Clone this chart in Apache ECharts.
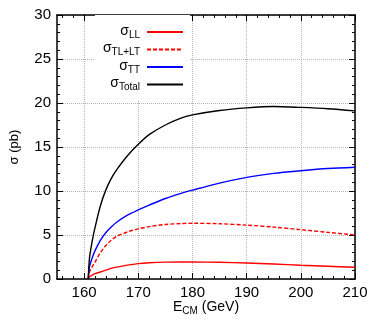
<!DOCTYPE html>
<html>
<head>
<meta charset="utf-8">
<script src="https://cdn.jsdelivr.net/npm/echarts@6/dist/echarts.min.js"></script>
<style>
  html, body { margin: 0; padding: 0; background: #fff; }
  #chart { width: 374px; height: 334px; }
</style>
</head>
<body>
<div id="chart"></div>
<script>
// centre-of-mass energy (GeV) and cross sections (pb)
const energy = [160.77, 161, 161.5, 162, 163, 164, 165, 166, 168, 170, 172, 175, 178, 180, 185, 190, 195, 200, 205, 210];
const sigmaLL = [0, 0.25, 0.45, 0.6, 0.8, 1.0, 1.2, 1.35, 1.58, 1.75, 1.85, 1.92, 1.93, 1.93, 1.9, 1.82, 1.7, 1.57, 1.45, 1.33];
const sigmaTLLT = [0, 0.8, 1.4, 1.9, 3.0, 3.8, 4.4, 4.85, 5.35, 5.7, 5.95, 6.2, 6.3, 6.33, 6.28, 6.12, 5.9, 5.6, 5.3, 5.0];
const sigmaTT = [0, 1.4, 2.4, 3.2, 4.4, 5.25, 5.9, 6.45, 7.25, 7.85, 8.4, 9.15, 9.75, 10.1, 10.9, 11.55, 12.0, 12.3, 12.55, 12.7];
const sigmaTotal = [0, 2.4, 4.3, 5.8, 8.3, 10.1, 11.4, 12.4, 14.0, 15.3, 16.4, 17.5, 18.3, 18.65, 19.15, 19.45, 19.6, 19.5, 19.35, 19.1];

const seriesNames = ['LL', 'TL+LT', 'TT', 'Total'];
const xMajorTicks = [160, 170, 180, 190, 200, 210];
const xMinorTicks = [156, 158, 162, 164, 166, 168, 172, 174, 176, 178, 182, 184, 186, 188, 192, 194, 196, 198, 202, 204, 206, 208];

const FONT = "'Liberation Sans', Arial, sans-serif";
const AXIS_COLOR = '#000';
const GRID_COLOR = '#b4b4b4';

const pairs = (ys) => energy.map((x, i) => [x, ys[i]]);

const chart = echarts.init(document.getElementById('chart'), null, { renderer: 'canvas' });

const xBase = {
  type: 'value', min: 155, max: 210, gridIndex: 0,
  axisLabel: { show: false },
  splitLine: { show: false },
};
const yBase = {
  type: 'value', min: 0, max: 30, interval: 5, gridIndex: 0,
  axisLabel: { show: false },
  splitLine: { show: false },
};

chart.setOption({
  animation: false,
  textStyle: { fontFamily: FONT },
  grid: { left: 56, right: 19, top: 15, bottom: 55, containLabel: false },
  legend: {
    data: seriesNames,
    orient: 'vertical',
    right: 184,
    top: 15,
    align: 'right',
    padding: [9, 6, 8, 8],
    itemGap: 1.5,
    itemWidth: 36,
    itemHeight: 16,
    backgroundColor: '#fff',
    itemStyle: { color: 'rgba(0,0,0,0)', borderWidth: 0, opacity: 0 },
    formatter: (name) => '{s|σ}{b|' + name + '}',
    textStyle: {
      color: '#000',
      rich: {
        s: { fontSize: 14, lineHeight: 16, verticalAlign: 'top', fontFamily: FONT, color: '#000' },
        b: { fontSize: 10, lineHeight: 10, verticalAlign: 'bottom', fontFamily: FONT, color: '#000', padding: [0, 2, 0, 0] },
      },
    },
  },
  xAxis: [
    {
      ...xBase,
      position: 'bottom',
      name: '{e|E}{b|CM}{e| (GeV)}',
      nameLocation: 'middle',
      nameGap: 21,
      nameMoveOverlap: false,
      nameTextStyle: {
        rich: {
          e: { fontSize: 14, lineHeight: 16, verticalAlign: 'top', color: '#000', fontFamily: FONT },
          b: { fontSize: 10, lineHeight: 10, verticalAlign: 'bottom', color: '#000', fontFamily: FONT },
        },
      },
      axisLine: { show: true, onZero: false, lineStyle: { color: AXIS_COLOR, width: 1.5 } },
      axisTick: { show: true, inside: true, length: 6, customValues: xMajorTicks, lineStyle: { color: AXIS_COLOR, width: 1 } },
      axisLabel: { show: true, customValues: xMajorTicks, margin: 6, fontSize: 15, color: '#000', fontFamily: FONT },
      splitLine: { show: true, lineStyle: { color: GRID_COLOR, type: 'dotted', width: 1 } },
    },
    {
      ...xBase,
      position: 'top',
      axisLine: { show: true, onZero: false, lineStyle: { color: AXIS_COLOR, width: 1.5 } },
      axisTick: { show: true, inside: true, length: 6, customValues: xMajorTicks, lineStyle: { color: AXIS_COLOR } },
    },
    {
      ...xBase,
      position: 'bottom',
      axisLine: { show: false, onZero: false },
      axisTick: { show: true, inside: true, length: 3, customValues: xMinorTicks, lineStyle: { color: AXIS_COLOR } },
    },
    {
      ...xBase,
      position: 'top',
      axisLine: { show: false, onZero: false },
      axisTick: { show: true, inside: true, length: 3, customValues: xMinorTicks, lineStyle: { color: AXIS_COLOR } },
    },
  ],
  yAxis: [
    {
      ...yBase,
      position: 'left',
      name: 'σ (pb)',
      nameLocation: 'middle',
      nameGap: 36,
      nameMoveOverlap: false,
      nameTextStyle: { fontSize: 13, color: '#000', fontFamily: FONT },
      axisLine: { show: true, onZero: false, lineStyle: { color: AXIS_COLOR, width: 1.5 } },
      axisTick: { show: true, inside: true, length: 6, lineStyle: { color: AXIS_COLOR } },
      minorTick: { show: true, splitNumber: 5, length: 3, lineStyle: { color: AXIS_COLOR } },
      axisLabel: { show: true, margin: 6, fontSize: 15, color: '#000', fontFamily: FONT },
      splitLine: { show: true, lineStyle: { color: GRID_COLOR, type: 'dotted', width: 1 } },
    },
    {
      ...yBase,
      position: 'right',
      axisLine: { show: true, onZero: false, lineStyle: { color: AXIS_COLOR, width: 1.5 } },
      axisTick: { show: true, inside: true, length: 6, lineStyle: { color: AXIS_COLOR } },
      minorTick: { show: true, splitNumber: 5, length: 3, lineStyle: { color: AXIS_COLOR } },
    },
  ],
  series: [
    { name: 'LL', data: pairs(sigmaLL), color: '#ff0000', lineStyle: { type: 'solid' } },
    { name: 'TL+LT', data: pairs(sigmaTLLT), color: '#ff0000', lineStyle: { type: [4, 2] } },
    { name: 'TT', data: pairs(sigmaTT), color: '#0000ff', lineStyle: { type: 'solid' } },
    { name: 'Total', data: pairs(sigmaTotal), color: '#000000', lineStyle: { type: 'solid' } },
  ].map((s) => ({
    ...s,
    type: 'line',
    xAxisIndex: 0,
    yAxisIndex: 0,
    symbol: 'none',
    smooth: 0.3,
    lineStyle: { ...s.lineStyle, width: 1.4, color: s.color },
    itemStyle: { color: s.color },
  })),
});
</script>
</body>
</html>
